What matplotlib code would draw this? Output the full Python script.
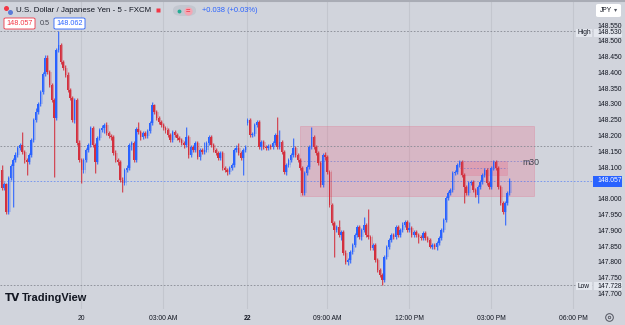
import numpy as np
import matplotlib.pyplot as plt
from matplotlib.patches import Rectangle, FancyBboxPatch
from matplotlib.lines import Line2D

plt.rcParams['font.family'] = ['Liberation Sans', 'DejaVu Sans']

# USD/JPY 5 min candles (prices)
first_open = 148.091
gap_opens = {108: 148.240}  # Monday open gap

closes = [148.034, 148.047, 147.958, 148.066, 148.104, 148.123, 148.138, 148.161, 148.170, 148.148,
          148.123, 148.116, 148.138, 148.186, 148.249, 148.274, 148.300, 148.338, 148.395, 148.445,
          148.401, 148.360, 148.313, 148.256, 148.471, 148.487, 148.433, 148.414, 148.392, 148.344,
          148.319, 148.249, 148.313, 148.176, 148.123, 148.091, 148.123, 148.154, 148.170, 148.224,
          148.170, 148.116, 148.192, 148.218, 148.224, 148.233, 148.208, 148.199, 148.195, 148.145,
          148.123, 148.116, 148.059, 148.050, 148.091, 148.097, 148.170, 148.176, 148.123, 148.221,
          148.211, 148.195, 148.208, 148.199, 148.214, 148.240, 148.297, 148.274, 148.256, 148.243,
          148.233, 148.224, 148.218, 148.202, 148.186, 148.211, 148.202, 148.192, 148.186, 148.176,
          148.170, 148.195, 148.138, 148.164, 148.154, 148.176, 148.132, 148.154, 148.148, 148.154,
          148.176, 148.195, 148.170, 148.154, 148.145, 148.129, 148.145, 148.097, 148.091, 148.085,
          148.097, 148.107, 148.154, 148.161, 148.145, 148.129, 148.154, 148.164, 148.249, 148.202,
          148.205, 148.233, 148.243, 148.164, 148.180, 148.164, 148.161, 148.167, 148.164, 148.176,
          148.202, 148.164, 148.180, 148.148, 148.085, 148.107, 148.123, 148.138, 148.161, 148.138,
          148.123, 148.097, 148.018, 148.081, 148.100, 148.164, 148.195, 148.164, 148.145, 148.113,
          148.043, 148.138, 148.132, 148.085, 147.980, 147.923, 147.901, 147.911, 147.885, 147.895,
          147.828, 147.800, 147.806, 147.831, 147.854, 147.885, 147.911, 147.879, 147.901, 147.917,
          147.885, 147.879, 147.844, 147.854, 147.806, 147.774, 147.759, 147.743, 147.816, 147.847,
          147.869, 147.885, 147.879, 147.911, 147.885, 147.901, 147.917, 147.926, 147.901, 147.907,
          147.885, 147.895, 147.885, 147.879, 147.876, 147.892, 147.876, 147.869, 147.847, 147.854,
          147.847, 147.860, 147.876, 147.901, 147.933, 148.002, 148.018, 148.028, 148.081, 148.085,
          148.107, 148.116, 148.075, 148.037, 148.018, 148.050, 148.053, 148.028, 148.012, 148.037,
          148.053, 148.075, 148.091, 148.050, 148.037, 148.097, 148.116, 148.097, 148.037, 147.986,
          147.958, 147.986, 148.018, 148.057]

highs = [148.107, 148.053, 148.050, 148.072, 148.110, 148.129, 148.148, 148.167, 148.176, 148.211,
         148.154, 148.129, 148.145, 148.192, 148.256, 148.287, 148.306, 148.344, 148.401, 148.455,
         148.455, 148.407, 148.366, 148.319, 148.477, 148.530, 148.493, 148.439, 148.423, 148.401,
         148.350, 148.325, 148.319, 148.319, 148.186, 148.129, 148.129, 148.161, 148.176, 148.230,
         148.230, 148.176, 148.199, 148.224, 148.233, 148.240, 148.243, 148.214, 148.205, 148.202,
         148.154, 148.129, 148.123, 148.069, 148.097, 148.107, 148.176, 148.183, 148.183, 148.227,
         148.243, 148.218, 148.214, 148.214, 148.221, 148.246, 148.306, 148.300, 148.281, 148.262,
         148.249, 148.240, 148.230, 148.224, 148.208, 148.218, 148.218, 148.208, 148.199, 148.192,
         148.183, 148.227, 148.202, 148.170, 148.170, 148.183, 148.183, 148.161, 148.161, 148.180,
         148.183, 148.202, 148.202, 148.176, 148.161, 148.151, 148.151, 148.151, 148.104, 148.097,
         148.104, 148.113, 148.161, 148.170, 148.176, 148.151, 148.161, 148.170, 148.256, 148.256,
         148.211, 148.240, 148.249, 148.249, 148.186, 148.186, 148.170, 148.173, 148.173, 148.183,
         148.208, 148.259, 148.218, 148.186, 148.154, 148.113, 148.129, 148.145, 148.192, 148.167,
         148.145, 148.129, 148.104, 148.088, 148.107, 148.170, 148.227, 148.202, 148.170, 148.151,
         148.119, 148.145, 148.148, 148.138, 148.091, 147.986, 147.929, 147.917, 147.933, 147.901,
         147.901, 147.838, 147.813, 147.838, 147.860, 147.892, 147.917, 147.917, 147.907, 147.942,
         147.923, 147.968, 147.885, 147.860, 147.860, 147.813, 147.781, 147.765, 147.822, 147.854,
         147.876, 147.892, 147.892, 147.917, 147.917, 147.907, 147.926, 147.933, 147.933, 147.926,
         147.914, 147.901, 147.901, 147.892, 147.885, 147.898, 147.898, 147.882, 147.876, 147.860,
         147.860, 147.866, 147.882, 147.907, 147.939, 148.009, 148.024, 148.034, 148.088, 148.091,
         148.113, 148.123, 148.123, 148.081, 148.043, 148.056, 148.059, 148.059, 148.034, 148.043,
         148.059, 148.081, 148.097, 148.097, 148.056, 148.104, 148.123, 148.123, 148.104, 148.043,
         147.993, 147.993, 148.024, 148.066]

lows = [148.028, 148.028, 147.952, 147.952, 148.059, 147.974, 148.116, 148.132, 148.154, 148.142,
        148.113, 148.075, 148.110, 148.132, 148.180, 148.243, 148.268, 148.294, 148.331, 148.388,
        148.395, 148.354, 148.306, 148.069, 148.249, 148.464, 148.426, 148.407, 148.385, 148.338,
        148.313, 148.243, 148.240, 148.170, 148.116, 148.050, 148.081, 148.116, 148.148, 148.164,
        148.164, 148.081, 148.110, 148.186, 148.211, 148.208, 148.202, 148.192, 148.186, 148.138,
        148.116, 148.107, 148.053, 148.021, 148.043, 148.085, 148.091, 148.154, 148.116, 148.116,
        148.205, 148.186, 148.189, 148.192, 148.192, 148.208, 148.233, 148.268, 148.249, 148.237,
        148.227, 148.218, 148.208, 148.195, 148.180, 148.180, 148.195, 148.186, 148.180, 148.170,
        148.161, 148.164, 148.129, 148.132, 148.148, 148.148, 148.126, 148.123, 148.142, 148.142,
        148.148, 148.170, 148.164, 148.148, 148.138, 148.123, 148.123, 148.091, 148.085, 148.075,
        148.078, 148.091, 148.100, 148.148, 148.138, 148.123, 148.075, 148.148, 148.233, 148.195,
        148.195, 148.199, 148.227, 148.157, 148.154, 148.157, 148.154, 148.154, 148.157, 148.157,
        148.170, 148.157, 148.157, 148.142, 148.078, 148.075, 148.100, 148.116, 148.132, 148.132,
        148.116, 148.091, 148.012, 148.012, 148.075, 148.094, 148.157, 148.157, 148.138, 148.107,
        148.037, 148.037, 148.123, 148.078, 147.974, 147.917, 147.816, 147.895, 147.879, 147.869,
        147.822, 147.793, 147.790, 147.797, 147.825, 147.847, 147.879, 147.873, 147.869, 147.895,
        147.879, 147.873, 147.838, 147.838, 147.800, 147.768, 147.752, 147.728, 147.737, 147.809,
        147.841, 147.863, 147.873, 147.873, 147.879, 147.879, 147.895, 147.911, 147.895, 147.895,
        147.879, 147.879, 147.879, 147.860, 147.869, 147.869, 147.869, 147.863, 147.844, 147.841,
        147.841, 147.838, 147.854, 147.869, 147.895, 147.926, 147.996, 148.012, 148.021, 148.075,
        148.078, 148.100, 148.069, 147.986, 148.012, 148.012, 148.043, 148.021, 148.006, 147.986,
        148.031, 148.047, 148.069, 148.043, 148.031, 148.031, 148.091, 148.091, 148.031, 147.980,
        147.952, 147.917, 147.980, 148.012]

# 148.050 is hidden behind the last price tag in the original
price_ticks = [148.55, 148.50, 148.45, 148.40, 148.35, 148.30, 148.25, 148.20, 148.15, 148.10,
               148.00, 147.95, 147.90, 147.85, 147.80, 147.75, 147.70]
time_ticks = [35, 71, 108, 143, 179, 215, 251]
time_labels = ['20', '03:00 AM', '22', '09:00 AM', '12:00 PM', '03:00 PM', '06:00 PM']

# drawings on the chart
zone_bars = [131.0, 233.8]
zone_prices = [148.009, 148.230]
box_bars = [201.3, 221.9]
box_prices = [148.076, 148.120]
level_line = 148.167
session_high = 148.530
session_low = 147.728
last_price = 148.057

W, H = 625, 325
bg = '#d1d4dc'
up_col = '#2962ff'
down_col = '#d3303e'
txt = '#131722'

def fx(x):
    return x / W

def fy(y):
    return 1 - y / H

fig = plt.figure(figsize=(6.25, 3.25), dpi=100, facecolor=bg)
ax = fig.add_axes([0, 16 / H, 593 / W, 308 / H])
ax.set_facecolor(bg)

c = np.array(closes)
o = np.concatenate([[first_open], c[:-1]])
for k, v in gap_opens.items():
    o[k] = v
hi = np.maximum(np.array(highs), np.maximum(o, c))
lo = np.minimum(np.array(lows), np.minimum(o, c))
idx = np.arange(len(c))
cols = np.where(c >= o, up_col, down_col)
body = np.maximum(np.abs(c - o), 0.0012)

# faded halo + candles
ax.bar(idx + 0.45, body, bottom=np.minimum(o, c), width=1.1, color=cols, alpha=0.22, zorder=2)
ax.vlines(idx + 0.45, lo, hi, colors=cols, lw=0.5, alpha=0.3, zorder=2)
ax.vlines(idx, lo, hi, colors=cols, lw=0.6, zorder=3)
ax.bar(idx, body, bottom=np.minimum(o, c), width=0.62, color=cols, zorder=3)

# rectangles
ax.add_patch(Rectangle((zone_bars[0], zone_prices[0]), zone_bars[1] - zone_bars[0],
                       zone_prices[1] - zone_prices[0], fc=(0.95, 0.27, 0.42, 0.2),
                       ec=(0.88, 0.45, 0.55, 0.3), lw=0.7, zorder=1))
ax.add_patch(Rectangle((box_bars[0], box_prices[0]), box_bars[1] - box_bars[0],
                       box_prices[1] - box_prices[0], fc=(0.95, 0.27, 0.42, 0.2),
                       ec=(0.88, 0.45, 0.55, 0.25), lw=0.6, zorder=1))
ax.hlines(np.mean(zone_prices), zone_bars[0], zone_bars[1], colors='#5b6bd0', alpha=0.6,
          lw=0.6, linestyles=(0, (2, 2)), zorder=1)
ax.hlines(np.mean(box_prices), box_bars[0], box_bars[1], colors='#5b6bd0', alpha=0.6,
          lw=0.6, linestyles=(0, (2, 2)), zorder=1)
ax.text(228.5, 148.116, 'm30', fontsize=6.3, color='#434651', va='center')

# horizontal lines
for lvl in [session_high, level_line, session_low]:
    ax.axhline(lvl, color='#868993', lw=0.6, ls=(0, (2, 2)), zorder=1)
ax.axhline(last_price, color='#2962ff', lw=0.6, ls=(0, (2, 2)), alpha=0.6, zorder=1)

ax.set_xlim(-0.66, 259.7)
ax.set_ylim(147.651, 148.626)
ax.set_xticks(time_ticks)
ax.set_xticklabels(time_labels)
ax.set_yticks(price_ticks)
ax.set_yticklabels([f'{p:.3f}' for p in price_ticks])
ax.yaxis.tick_right()
ax.tick_params(axis='y', length=0, pad=3, labelsize=4.9, labelcolor=txt)
ax.tick_params(axis='x', length=0, pad=4, labelsize=4.9, labelcolor=txt)
ax.get_xticklabels()[2].set_fontweight('bold')
ax.grid(axis='x', color='#c3c6ce', lw=0.8)
ax.set_axisbelow(True)
for s in ax.spines.values():
    s.set_visible(False)

# top border
fig.add_artist(Line2D([0, 1], [fy(0.5)] * 2, color='#a9acb5', lw=1.5))

# legend row 1
fig.add_artist(Line2D([fx(6)], [fy(8)], marker='o', ms=3.6, color='#f23645', mec='none'))
fig.add_artist(Line2D([fx(9.5)], [fy(12)], marker='o', ms=3.6, color='#5b7bd8', mec='none'))
fig.text(fx(16), fy(10), 'U.S. Dollar / Japanese Yen - 5 - FXCM', fontsize=5.7, color=txt, va='center')
fig.add_artist(Line2D([fx(158)], [fy(10)], marker='s', ms=3.4, color='#f23645', mec='none'))
fig.add_artist(FancyBboxPatch((fx(173), fy(16)), fx(23), 11 / H, boxstyle='round,pad=0,rounding_size=0.015',
                              fc='#c3c7d0', ec='none', transform=fig.transFigure))
fig.add_artist(Line2D([fx(178.5)], [fy(10.5)], marker='o', ms=2.8, color='#22ab94', mec='none'))
fig.add_artist(Line2D([fx(188)], [fy(10.5)], marker='o', ms=6, color='#f2a7b4', mec='none'))
fig.text(fx(188), fy(10.5), '=', fontsize=5.5, color='#f23645', ha='center', va='center', weight='bold')
fig.text(fx(202), fy(10), '+0.038 (+0.03%)', fontsize=5.4, color='#2962ff', va='center')

# legend row 2
for x0, w, ec, label in [(4, 31, '#f23645', '148.057'), (54, 31, '#2962ff', '148.062')]:
    fig.add_artist(FancyBboxPatch((fx(x0), fy(29)), fx(w), 11 / H, boxstyle='round,pad=0,rounding_size=0.003',
                                  fc='white', ec=ec, lw=0.6, transform=fig.transFigure))
    fig.text(fx(x0 + w / 2), fy(23.5), label, fontsize=5.2, color=ec, ha='center', va='center')
fig.text(fx(40), fy(23.5), '0.5', fontsize=5.2, color='#434651', va='center')

# price scale extras
fig.add_artist(FancyBboxPatch((fx(596), fy(17)), fx(25), 13 / H, boxstyle='round,pad=0,rounding_size=0.004',
                              fc='white', ec='none', transform=fig.transFigure))
fig.text(fx(600), fy(10.5), 'JPY', fontsize=4.8, color=txt, va='center')
fig.text(fx(614), fy(10), '▾', fontsize=4.5, color='#50535e', va='center')

for y, name, val in [(32.5, 'High', '148.530'), (286, 'Low', '147.728')]:
    fig.add_artist(Rectangle((fx(576), fy(y + 4)), fx(16), 8 / H, fc='#e4e7ee', ec='none',
                             transform=fig.transFigure))
    fig.add_artist(Rectangle((fx(594), fy(y + 4)), fx(28), 8 / H, fc='#e4e7ee', ec='none',
                             transform=fig.transFigure))
    fig.text(fx(584), fy(y), name, fontsize=4.8, color=txt, ha='center', va='center')
    fig.text(fx(597), fy(y), val, fontsize=4.9, color=txt, va='center')

fig.add_artist(Rectangle((fx(593), fy(186.5)), fx(29), 11 / H, fc='#2962ff', ec='none',
                         transform=fig.transFigure))
fig.text(fx(597), fy(181), '148.057', fontsize=4.9, color='white', va='center')

# settings gear
fig.add_artist(Line2D([fx(609)], [fy(317)], marker='o', ms=5.5, mfc='none', mec='#50535e', mew=0.7))
fig.add_artist(Line2D([fx(609)], [fy(317)], marker='o', ms=1.8, mfc='none', mec='#50535e', mew=0.6))

# logo
fig.text(fx(5), fy(298), 'TV', fontsize=7.5, color=txt, va='center', weight='bold', family='DejaVu Sans')
fig.text(fx(22), fy(298), 'TradingView', fontsize=7.9, color=txt, va='center', weight='bold')

fig.savefig('out.png', dpi=100, facecolor=bg)
